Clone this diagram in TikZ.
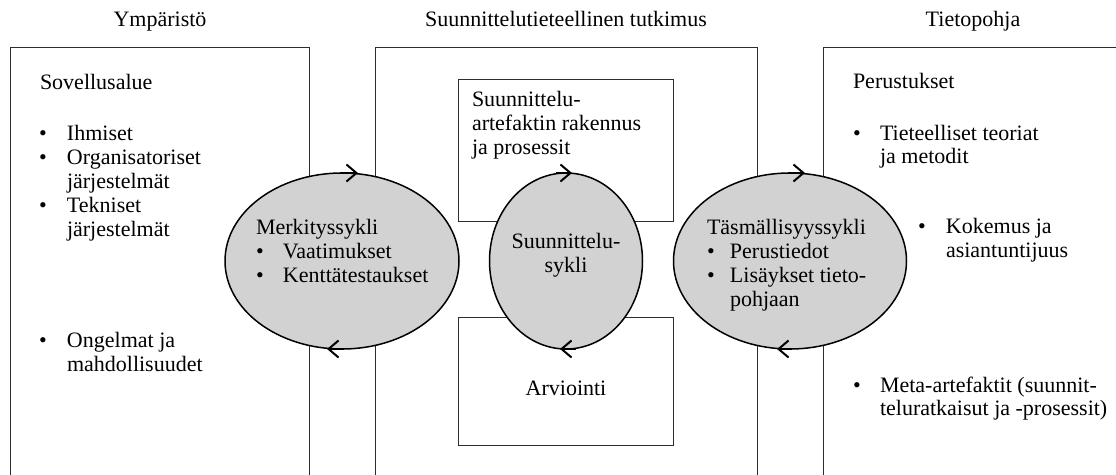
\documentclass[tikz,border=0pt]{standalone}
\usepackage{fontspec}
\setmainfont{Liberation Serif}
\usepackage{array}
\usetikzlibrary{arrows.meta,shapes.geometric}
\definecolor{ellfill}{RGB}{210,210,210}
\definecolor{boxline}{RGB}{45,45,45}
\begin{document}
\begin{tikzpicture}[x=1pt,y=-1pt,
  every node/.style={inner sep=0pt, outer sep=0pt},
  txt/.style={font=\fontsize{22}{24}\selectfont, anchor=base west},
  ctxt/.style={font=\fontsize{22}{24}\selectfont, anchor=base},
  frame/.style={draw=boxline, line width=1pt, rectangle, anchor=north west},
  cyc/.style={ellipse, draw=black, line width=1.5pt, fill=ellfill},
  cycarrow/.style={draw=black, line width=1.5pt, -{Straight Barb[length=10pt,width=17pt,line width=2pt]}}
]
\useasboundingbox (0,0) rectangle (1116,474);
\clip (0,0) rectangle (1116,474);
\fill[white] (0,0) rectangle (1116,474);

% titles
\node[ctxt] (t1) at (160,26) {Ympäristö};
\node[ctxt] (t2) at (566,26) {Suunnittelutieteellinen tutkimus};
\node[ctxt] (t3) at (973,26) {Tietopohja};

% outer frames (open at the bottom edge of the picture)
\node[frame, minimum width=299pt, minimum height=460pt] (env) at (10,47) {};
\node[frame, minimum width=382pt, minimum height=460pt] (dsr) at (375,47) {};
\node[frame, minimum width=320pt, minimum height=460pt] (kb) at (823,47) {};

% inner boxes
\node[frame, minimum width=215pt, minimum height=142pt] (build) at (458,79) {};
\node[frame, minimum width=215pt, minimum height=128pt] (eval) at (458,317) {};

% cycles
\node[cyc, minimum width=234pt, minimum height=176pt] (rel) at (342,261) {};
\node[cyc, minimum width=153pt, minimum height=176pt] (des) at (566,261) {};
\node[cyc, minimum width=233pt, minimum height=176pt] (rig) at (790,261) {};

% cycle arrowheads
\draw[cycarrow] ([xshift=-2pt]rel.north) -- ([xshift=16pt]rel.north);
\draw[cycarrow] ([xshift=2pt]rel.south) -- ([xshift=-15pt]rel.south);
\draw[cycarrow] ([xshift=-10pt]des.north) -- ([xshift=6pt]des.north);
\draw[cycarrow] ([xshift=10pt]des.south) -- ([xshift=-6pt]des.south);
\draw[cycarrow] ([xshift=-2pt]rig.north) -- ([xshift=15pt]rig.north);
\draw[cycarrow] ([xshift=2pt]rig.south) -- ([xshift=-13pt]rig.south);

% left frame texts
\node[txt] (sov) at (40,89) {Sovellusalue};
\node[txt] (sovl) at (39,140) {\begin{tabular}[t]{@{}p{28pt}@{}l@{}}
\textbullet & Ihmiset\\
\textbullet & Organisatoriset\\
 & järjestelmät\\
\textbullet & Tekniset\\
 & järjestelmät
\end{tabular}};
\node[txt] (ong) at (39,347) {\begin{tabular}[t]{@{}p{28pt}@{}l@{}}
\textbullet & Ongelmat ja\\
 & mahdollisuudet
\end{tabular}};

% relevance cycle text
\node[txt] (relt) at (256,234) {\begin{tabular}[t]{@{}p{27pt}@{}l@{}}
\multicolumn{2}{@{}l@{}}{Merkityssykli}\\
\textbullet & Vaatimukset\\
\textbullet & Kenttätestaukset
\end{tabular}};

% middle texts
\node[txt] (buildt) at (472,106) {\begin{tabular}[t]{@{}l@{}}
Suunnittelu-\\
artefaktin rakennus\\
ja prosessit
\end{tabular}};
\node[ctxt] (dest) at (566,248) {\begin{tabular}[t]{@{}c@{}}
Suunnittelu-\\
sykli
\end{tabular}};
\node[ctxt] (evalt) at (566,395) {Arviointi};

% rigor cycle text
\node[txt] (rigt) at (707,234) {\begin{tabular}[t]{@{}p{23pt}@{}l@{}}
\multicolumn{2}{@{}l@{}}{Täsmällisyyssykli}\\
\textbullet & Perustiedot\\
\textbullet & Lisäykset tieto-\\
 & pohjaan
\end{tabular}};

% right frame texts
\node[txt] (per) at (853,88) {Perustukset};
\node[txt, font=\fontsize{22}{23}\selectfont] (tie) at (853,140) {\begin{tabular}[t]{@{}p{27pt}@{}l@{}}
\textbullet & Tieteelliset teoriat\\
 & ja metodit
\end{tabular}};
\node[txt] (kok) at (918,233) {\begin{tabular}[t]{@{}p{28pt}@{}l@{}}
\textbullet & Kokemus ja\\
 & asiantuntijuus
\end{tabular}};
\node[txt, font=\fontsize{22}{23}\selectfont] (meta) at (853,392) {\begin{tabular}[t]{@{}p{27pt}@{}l@{}}
\textbullet & Meta-artefaktit (suunnit-\\
 & teluratkaisut ja -prosessit)
\end{tabular}};
\end{tikzpicture}
\end{document}
